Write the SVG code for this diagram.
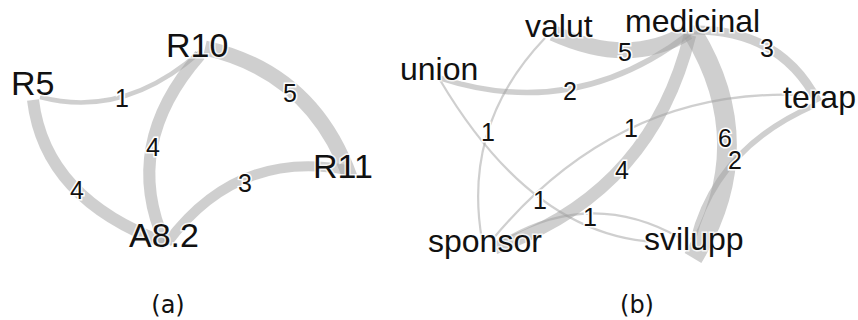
<svg xmlns="http://www.w3.org/2000/svg" width="858" height="320" viewBox="0 0 858 320">
<style>
.e{fill:none;stroke:#a0a0a0;stroke-opacity:0.5;stroke-linecap:butt}
.n{font-family:"Liberation Sans",Arial,sans-serif;font-size:32px;fill:#111;stroke:#fff;stroke-width:3;stroke-opacity:0.8;paint-order:stroke}
.a{font-size:34px}
.w{font-family:"Liberation Sans",Arial,sans-serif;font-size:25px;fill:#111;stroke:#fff;stroke-width:3;paint-order:stroke;text-anchor:middle}
.c{font-family:"DejaVu Sans",sans-serif;font-size:24px;fill:#111;text-anchor:middle}
</style>
<rect width="858" height="320" fill="#fff"/>
<g id="connectors">
<path class="e" d="M40,97 Q124,119 200,52" stroke-width="4.5"/>
<path class="e" d="M33,100 Q45,199 165,243" stroke-width="12"/>
<path class="e" d="M200,55 Q121,145 165,243" stroke-width="12"/>
<path class="e" d="M205,48 Q312,72 350,177" stroke-width="15"/>
<path class="e" d="M167,243 Q237,149 347,170" stroke-width="10"/>
<path class="e" d="M553,33 Q630,68 688,32" stroke-width="16"/>
<path class="e" d="M440,78 Q575,122 690,33" stroke-width="5.5"/>
<path class="e" d="M690,30 Q780,28 818,102" stroke-width="9"/>
<path class="e" d="M690,35 Q651,194 495,248" stroke-width="12.5"/>
<path class="e" d="M693,33 Q761,145 693,258" stroke-width="19.5"/>
<path class="e" d="M815,105 Q716,148 693,240" stroke-width="5.5"/>
<path class="e" d="M800,95 Q618,88 492,240" stroke-width="2.2"/>
<path class="e" d="M545,38 Q462,125 482,240" stroke-width="2.2"/>
<path class="e" d="M440,80 Q532,235 655,242" stroke-width="2.2"/>
<path class="e" d="M500,242 Q590,187 680,238" stroke-width="2.2"/>
</g>
<g id="edge-labels">
<text class="w" x="122" y="107">1</text>
<text class="w" x="77" y="199">4</text>
<text class="w" x="153" y="156">4</text>
<text class="w" x="290" y="102">5</text>
<text class="w" x="245" y="192">3</text>
<text class="w" x="625" y="61">5</text>
<text class="w" x="570" y="100">2</text>
<text class="w" x="767" y="57">3</text>
<text class="w" x="622" y="179">4</text>
<text class="w" x="725" y="147">6</text>
<text class="w" x="735" y="169">2</text>
<text class="w" x="631" y="137">1</text>
<text class="w" x="488" y="141">1</text>
<text class="w" x="540" y="209">1</text>
<text class="w" x="590" y="226">1</text>
</g>
<g id="node-R5"><text class="n a" x="11" y="95">R5</text></g>
<g id="node-R10"><text class="n a" x="166" y="57">R10</text></g>
<g id="node-R11"><text class="n a" x="313" y="178">R11</text></g>
<g id="node-A8.2"><text class="n a" x="129" y="247">A8.2</text></g>
<g id="node-valut"><text class="n" x="525" y="37">valut</text></g>
<g id="node-medicinal"><text class="n" x="625" y="32">medicinal</text></g>
<g id="node-union"><text class="n" x="400" y="80">union</text></g>
<g id="node-terap"><text class="n" x="783" y="108">terap</text></g>
<g id="node-sponsor"><text class="n" x="428" y="252">sponsor</text></g>
<g id="node-svilupp"><text class="n" x="644" y="250">svilupp</text></g>
<g id="captions">
<text class="c" x="168" y="313">(a)</text>
<text class="c" x="637" y="313">(b)</text>
</g>
</svg>
